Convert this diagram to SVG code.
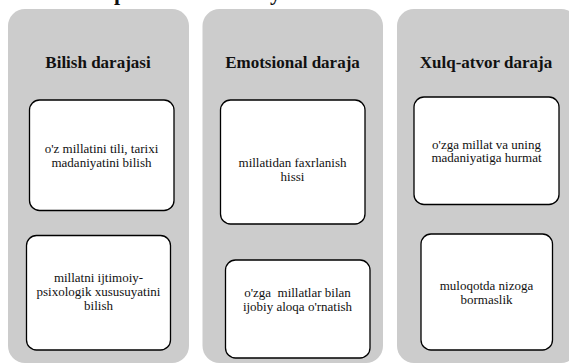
<svg xmlns="http://www.w3.org/2000/svg" width="569" height="363" viewBox="0 0 569 363">
<style>
text{font-family:'Liberation Serif','Times New Roman',Times,'DejaVu Serif',serif;fill:#111}
.panel{fill:#cccccc;stroke:none}
.box{fill:#ffffff;stroke:#000000;stroke-width:1.3}
.title{font-weight:bold;font-size:17px;text-anchor:middle}
.frag{font-weight:bold;font-size:22px}
.t{font-size:13px;text-anchor:middle;white-space:pre}
</style>
<rect width="569" height="363" fill="#ffffff"/>
<text class="frag" x="114" y="0">p</text>
<text class="frag" x="270" y="0">y</text>
<g id="panel-bilish">
<rect class="panel" x="8" y="9" width="181" height="354" rx="17"/>
<text class="title" x="98" y="68">Bilish darajasi</text>
</g>
<g id="panel-emotsional">
<rect class="panel" x="202.5" y="9" width="180.5" height="354" rx="17"/>
<text class="title" x="292.5" y="68">Emotsional daraja</text>
</g>
<g id="panel-xulq">
<rect class="panel" x="397" y="9" width="181" height="354" rx="17"/>
<text class="title" x="486" y="68">Xulq-atvor daraja</text>
</g>
<g id="node-b1">
<rect class="box" x="29.5" y="100" width="144.5" height="110.5" rx="10"/>
<text class="t" x="101.5" y="152.5">o'z millatini tili, tarixi</text>
<text class="t" x="101.5" y="166.5">madaniyatini bilish</text>
</g>
<g id="node-b2">
<rect class="box" x="26.5" y="235.5" width="144" height="114.5" rx="10"/>
<text class="t" x="98.5" y="281.5">millatni ijtimoiy-</text>
<text class="t" x="98.5" y="295.5">psixologik xususuyatini</text>
<text class="t" x="98.5" y="309.5">bilish</text>
</g>
<g id="node-e1">
<rect class="box" x="220.5" y="100" width="144.5" height="124" rx="10"/>
<text class="t" x="292.5" y="167">millatidan faxrlanish</text>
<text class="t" x="292.5" y="181">hissi</text>
</g>
<g id="node-e2">
<rect class="box" x="225.5" y="260" width="144.5" height="98" rx="10"/>
<text class="t" x="297.5" y="296.5">o'zga  millatlar bilan</text>
<text class="t" x="297.5" y="310.5">ijobiy aloqa o'rnatish</text>
</g>
<g id="node-x1">
<rect class="box" x="414" y="97" width="145" height="107.5" rx="10"/>
<text class="t" x="486.5" y="148.5">o'zga millat va uning</text>
<text class="t" x="486.5" y="162">madaniyatiga hurmat</text>
</g>
<g id="node-x2">
<rect class="box" x="421" y="234" width="131.5" height="116" rx="10"/>
<text class="t" x="486.5" y="290">muloqotda nizoga</text>
<text class="t" x="486.5" y="303.5">bormaslik</text>
</g>
<g id="connectors"></g>
</svg>
